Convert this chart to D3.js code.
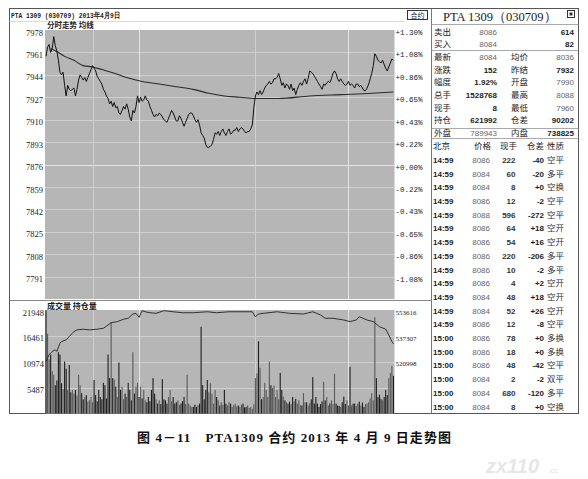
<!DOCTYPE html>
<html><head><meta charset="utf-8">
<script src="https://cdn.jsdelivr.net/npm/d3@7"></script>
<style>body{margin:0;background:#fff}svg{display:block}</style>
</head><body>
<svg id="c" width="588" height="479"></svg>
<script>
// ---------------- DATA ----------------
const headerTitle = "PTA 1309 (030709) 2013年4月9日";
const priceLabel = "分时走势  均线";
const volLabel = "成交量  持仓量";
const priceTicks = [7978,7961,7944,7927,7910,7893,7876,7859,7842,7825,7808,7791];
const pctTicks = ["+1.30%","+1.08%","+0.86%","+0.65%","+0.43%","+0.22%","+0.00%","-0.22%","-0.43%","-0.65%","-0.86%","-1.08%"];
const volTicks = [21948,16461,10974,5487];
const oiTicks = [553616,537307,520998];
const timeGridMinutes = [30,60,135,195];

// one price per trading minute (225 minutes)
const prices = [
7958,7965,7967,7961,7964,7973,7966,7962,7955,7946,
7944,7946,7936,7928,7936,7933,7932,7933,7934,7928,
7933,7940,7944,7942,7940,7942,7939,7942,7945,7948,
7951,7949,7947,7943,7941,7939,7937,7933,7931,7928,
7926,7922,7924,7920,7923,7919,7920,7915,7914,7917,
7920,7918,7922,7918,7912,7909,7917,7915,7920,7928,
7923,7927,7924,7925,7928,7925,7924,7920,7917,7914,
7912,7914,7913,7915,7914,7912,7910,7909,7908,7911,
7914,7917,7915,7912,7909,7909,7913,7911,7908,7905,
7908,7911,7914,7915,7915,7913,7910,7908,7910,7906,
7900,7898,7896,7891,7889,7889,7890,7891,7895,7900,
7899,7901,7898,7901,7903,7900,7898,7901,7903,7899,
7900,7902,7902,7904,7901,7903,7904,7903,7901,7900,
7901,7901,7903,7906,7919,7928,7931,7929,7932,7929,
7931,7934,7936,7937,7939,7937,7938,7941,7941,7942,
7945,7941,7936,7938,7934,7937,7936,7933,7937,7932,
7934,7929,7933,7936,7938,7936,7939,7941,7937,7941,
7947,7946,7945,7943,7941,7939,7937,7935,7933,7937,
7936,7938,7939,7938,7941,7945,7947,7945,7941,7939,
7941,7939,7937,7936,7937,7939,7936,7937,7936,7934,
7937,7937,7935,7936,7934,7932,7932,7934,7937,7941,
7945,7951,7960,7958,7955,7954,7953,7955,7952,7949,
7947,7950,7953,7956,7955];

const avgMinutes = [3,8,12,18,24,30,36,42,52,62,73,84,95,105,115,125,135,150,170,190,210,224];
const avgPrices  = [7964,7961,7958,7955,7951,7950,7948,7946,7942,7939,7937,7935,7933,7930,7928,7927,7926,7926,7928,7929,7930,7931];

const volumes = [
21900,16900,11500,12500,9000,8200,6000,7000,13000,12500,
6400,5200,11000,9500,5000,10300,4500,5000,4200,5000,
3800,8200,6000,4300,3000,3500,3900,2500,2800,3500,
2400,7100,3900,2600,5000,3500,3000,6500,6000,3200,
12500,7500,19400,7500,7200,5700,3500,10800,5000,5700,
3000,4200,3500,6500,5000,2800,13000,4200,5700,6500,
3500,5700,3200,5000,2800,2400,3500,2600,5000,7500,
4200,3000,2100,2800,2000,7300,3000,2800,2100,3500,
5000,2600,3500,2100,2400,2800,1800,2100,2600,3500,
2000,8200,2100,1700,1400,1400,1900,1400,1800,2100,
18400,6000,3000,5000,7100,4500,6400,4200,2100,5000,
3500,2800,1700,2400,1800,5000,2100,1700,2400,2100,
1400,1800,2100,1500,1700,1400,1900,2100,1300,1400,
1700,1200,1400,1000,2000,7500,8500,15300,9700,3000,
3500,6500,5000,3500,11000,6000,5400,5900,3500,5000,
3000,8600,5000,3600,2800,2400,2100,2500,2000,3500,
2600,3100,2100,2800,1800,1700,4300,2400,2400,1700,
2200,3000,7700,2100,3500,2100,1400,2000,2600,6700,
2800,3500,1700,2100,2800,2000,8400,2100,1700,1600,
1400,2400,3600,2000,2800,1700,9900,1700,2100,2100,
1600,2100,2500,1700,2300,1400,2000,2100,2400,3200,
4300,2800,20400,7500,3500,4000,3100,2800,3500,5000,
3900,7500,8600,10100,8000];

const oiMinutes = [0,2,4,6,7,9,10,13,15,18,20,24,28,33,37,40,42,46,50,53,56,58,60,62,64,67,71,76,82,88,95,104,110,118,127,133,135,137,140,149,157,166,172,177,180,185,192,196,200,202,207,211,215,219,221,223,224];
const oiValues = [521200,525400,527500,528500,527500,532700,533700,534800,536900,540000,541100,541500,541100,541500,542100,544200,545600,546300,547800,548400,551100,551500,549000,553200,552500,551900,551500,553200,552500,551900,551900,552500,551900,552500,552500,552500,549400,551100,551500,552500,551500,551100,552500,550500,548400,548400,547300,546300,547300,549400,547300,546300,543100,541500,537900,533700,532300];

const panelTitle = "PTA 1309（030709）";
const quoteLabelsA = ["卖出","买入","最新","涨跌","幅度","总手","现手","持仓","外盘"];
const quoteValuesA = ["8086","8084","8084","152","1.92%","1528768","8","621992","789943"];
const quoteLabelsB = ["","","均价","昨结","开盘","最高","最低","仓差","内盘"];
const quoteValuesB = ["614","82","8036","7932","7990","8088","7960","90202","738825"];

const tradeHeader = ["北京","价格","现手","仓差","性质"];
const tradeTimes  = ["14:59","14:59","14:59","14:59","14:59","14:59","14:59","14:59","14:59","14:59","14:59","14:59","14:59","15:00","15:00","15:00","15:00","15:00","15:00"];
const tradePrices = ["8086","8084","8084","8086","8088","8086","8086","8086","8086","8086","8084","8084","8086","8086","8086","8086","8084","8084","8084"];
const tradeQty    = ["222","60","8","12","596","64","54","220","10","4","48","52","12","78","18","48","2","680","8"];
const tradeOI     = ["-40","-20","+0","-2","-272","+18","+16","-206","-2","+2","+18","+26","-8","+0","+0","-42","-2","-120","+0"];
const tradeType   = ["空平","多平","空换","空平","空平","空开","空开","多平","多平","空开","空开","空开","空平","多换","多换","空平","双平","多平","空换"];

const caption = "图 4－11　PTA1309 合约 2013 年 4 月 9 日走势图";

// ---------------- DRAWING ----------------
const svg = d3.select("#c");
const ink = "#1c1c1c", mid = "#666", plotFill = "#b6b6b6", grid = "#d0d0d0", gridHi = "#e4e4e4";
const cjk = "'Noto Sans CJK SC','Liberation Sans',sans-serif";
const sans = "'Liberation Sans',Arial,sans-serif";
const serif = "'Liberation Serif','Times New Roman',serif";
const mono = "'Liberation Mono','DejaVu Sans Mono',monospace";

const PL = 45, PR = 394.5, PT = 30, PB = 299, VT = 310, VB = 413.5;
const x = d3.scaleLinear().domain([0, 225]).range([46, 395]);
const yP = d3.scaleLinear().domain([7774, 7978]).range([PB, PT]);
const yV = d3.scaleLinear().domain([0, 21948]).range([VB, VT]);
const yO = d3.scaleLinear().domain([488380, 553616]).range([VB, VT]);

// outer frames
svg.append("rect").attr("x",9.5).attr("y",8.5).attr("width",569).attr("height",405)
  .attr("fill","none").attr("stroke","#555");
svg.append("line").attr("x1",431.5).attr("x2",431.5).attr("y1",8.5).attr("y2",413.5).attr("stroke","#777");
svg.append("line").attr("x1",9.5).attr("x2",405).attr("y1",21.5).attr("y2",21.5).attr("stroke","#ddd");
svg.append("line").attr("x1",9.5).attr("x2",431.5).attr("y1",300.5).attr("y2",300.5).attr("stroke","#888");

// header text
svg.append("text").attr("x",11).attr("y",18).attr("font-family",mono).attr("font-size",8)
  .attr("font-weight","bold").attr("fill",ink).attr("textLength",109).attr("lengthAdjust","spacingAndGlyphs")
  .text(headerTitle);
// small button
svg.append("rect").attr("x",407.5).attr("y",10.5).attr("width",20).attr("height",9).attr("fill","#fff").attr("stroke","#333");
svg.append("text").attr("x",417.5).attr("y",18).attr("text-anchor","middle").attr("font-family",cjk)
  .attr("font-size",7).attr("fill",ink).text("合约");

// plot backgrounds
svg.append("rect").attr("x",PL).attr("y",PT).attr("width",PR-PL).attr("height",PB-PT).attr("fill",plotFill);
svg.append("rect").attr("x",PL).attr("y",VT).attr("width",PR-PL).attr("height",VB-VT).attr("fill",plotFill);

// grids - price panel
const gGrid = svg.append("g");
gGrid.selectAll(".hp").data(priceTicks.slice(1)).join("line")
  .attr("x1",PL).attr("x2",PR).attr("y1",d=>Math.round(yP(d))+0.5).attr("y2",d=>Math.round(yP(d))+0.5)
  .attr("stroke",(d,i)=> d===7876 ? gridHi : grid).attr("stroke-width",1);
gGrid.selectAll(".vp").data(timeGridMinutes).join("line")
  .attr("x1",d=>Math.round(x(d))+0.5).attr("x2",d=>Math.round(x(d))+0.5).attr("y1",PT).attr("y2",PB)
  .attr("stroke",(d,i)=> i%2 ? gridHi : grid);
// grids - volume panel
gGrid.selectAll(".hv").data(volTicks.slice(1)).join("line")
  .attr("x1",PL).attr("x2",PR).attr("y1",d=>Math.round(yV(d))+0.5).attr("y2",d=>Math.round(yV(d))+0.5)
  .attr("stroke",grid);
gGrid.selectAll(".vv").data(timeGridMinutes).join("line")
  .attr("x1",d=>Math.round(x(d))+0.5).attr("x2",d=>Math.round(x(d))+0.5).attr("y1",VT).attr("y2",VB)
  .attr("stroke",(d,i)=> i%2 ? gridHi : grid);

// panel labels
svg.append("text").attr("x",47).attr("y",28).attr("font-family",cjk).attr("font-size",7.5)
  .attr("font-weight","bold").attr("fill",ink).text(priceLabel);
svg.append("text").attr("x",47).attr("y",308.5).attr("font-family",cjk).attr("font-size",8)
  .attr("font-weight","bold").attr("fill",ink).text(volLabel);

// axes (price left, percent right)
function styleAxis(g){ g.select(".domain").remove(); g.selectAll(".tick line").remove(); }
const axL = svg.append("g").attr("transform","translate(43,0)")
  .call(d3.axisLeft(yP).tickValues(priceTicks).tickSize(0).tickPadding(0).tickFormat(d3.format("d")));
styleAxis(axL);
axL.selectAll("text").attr("dy","0.6em").attr("font-family",serif).attr("font-size",8.5).attr("fill",ink);

const axR = svg.append("g").attr("transform","translate(395.5,0)")
  .call(d3.axisRight(yP).tickValues(priceTicks).tickSize(0).tickPadding(0)
    .tickFormat((d,i)=>pctTicks[i]));
styleAxis(axR);
axR.selectAll("text").attr("dy","0.6em").attr("font-family",mono).attr("font-size",7.5).attr("fill",ink);

const axVL = svg.append("g").attr("transform","translate(44,0)")
  .call(d3.axisLeft(yV).tickValues(volTicks).tickSize(0).tickPadding(0).tickFormat(d3.format("d")));
styleAxis(axVL);
axVL.selectAll("text").attr("dy","0.6em").attr("font-family",serif).attr("font-size",8.5).attr("fill",ink);

const axVR = svg.append("g").attr("transform","translate(395.5,0)")
  .call(d3.axisRight(yO).tickValues(oiTicks).tickSize(0).tickPadding(0).tickFormat(d3.format("d")));
styleAxis(axVR);
axVR.selectAll("text").attr("dy","0.6em").attr("font-family",serif).attr("font-size",7).attr("fill",ink);

// volume bars
svg.append("g").selectAll("rect").data(volumes).join("rect")
  .attr("x",(d,i)=>x(i)-0.55).attr("width",1.1)
  .attr("y",d=>yV(d)).attr("height",d=>VB-yV(d))
  .attr("fill",(d,i)=> (i>0 && prices[i]>=prices[i-1]) ? "#5a5a5a" : "#1e1e1e");

// open interest line
svg.append("path").datum(oiMinutes.map((m,i)=>[m,oiValues[i]]))
  .attr("fill","none").attr("stroke","#222").attr("stroke-width",0.9)
  .attr("d", d3.line().x(d=>x(d[0])).y(d=>yO(d[1])));

// average line
svg.append("path").datum(avgMinutes.map((m,i)=>[m,avgPrices[i]]))
  .attr("fill","none").attr("stroke","#2a2a2a").attr("stroke-width",1.1)
  .attr("d", d3.line().curve(d3.curveMonotoneX).x(d=>x(d[0])).y(d=>yP(d[1])));

// price line
svg.append("path").datum(prices)
  .attr("fill","none").attr("stroke","#111").attr("stroke-width",1).attr("stroke-linejoin","round")
  .attr("d", d3.line().x((d,i)=>x(i)).y(d=>yP(d)));

// ---------------- right panel ----------------
svg.append("text").attr("x",443).attr("y",20.5).attr("font-family",serif).attr("font-size",12.5)
  .attr("fill",ink).text(panelTitle);
svg.append("rect").attr("x",567.5).attr("y",10.5).attr("width",7).attr("height",7).attr("fill","none").attr("stroke","#333");
svg.append("rect").attr("x",569.5).attr("y",12.5).attr("width",3).attr("height",3).attr("fill","#333");
const sepYs = [24.5, 50.5, 128.5, 138.5];
svg.selectAll(".sep").data(sepYs).join("line").attr("x1",431.5).attr("x2",578.5)
  .attr("y1",d=>d).attr("y2",d=>d).attr("stroke","#aaa");

const qRowY = d3.scaleLinear().domain([0,8]).range([34.5,136]);
const grayA = new Set([0,1,2,8]);
const grayB = new Set([2,4,5,6]);
const gq = svg.append("g");
quoteLabelsA.forEach((t,i)=>{
  const yy = qRowY(i);
  gq.append("text").attr("x",434).attr("y",yy).attr("font-family",cjk).attr("font-size",8.5).attr("fill",ink).text(t);
  gq.append("text").attr("x",497).attr("y",yy).attr("text-anchor","end").attr("font-family",sans).attr("font-size",8)
    .attr("font-weight",grayA.has(i)?"normal":"bold").attr("fill",grayA.has(i)?mid:ink).text(quoteValuesA[i]);
  if (quoteLabelsB[i]) gq.append("text").attr("x",511).attr("y",yy).attr("font-family",cjk).attr("font-size",8.5).attr("fill",ink).text(quoteLabelsB[i]);
  gq.append("text").attr("x",574).attr("y",yy).attr("text-anchor","end").attr("font-family",sans).attr("font-size",8)
    .attr("font-weight",grayB.has(i)?"normal":"bold").attr("fill",grayB.has(i)?mid:ink).text(quoteValuesB[i]);
});

const hdrX = [433,474,500,527,547];
tradeHeader.forEach((t,i)=>{
  svg.append("text").attr("x",hdrX[i]).attr("y",149).attr("font-family",cjk).attr("font-size",8.5).attr("fill",ink).text(t);
});
const tRowY = d3.scaleLinear().domain([0,18]).range([163,409.5]);
const gt = svg.append("g");
tradeTimes.forEach((t,i)=>{
  const yy = tRowY(i);
  gt.append("text").attr("x",433).attr("y",yy).attr("font-family",sans).attr("font-size",8).attr("font-weight","bold").attr("fill",ink).text(t);
  gt.append("text").attr("x",490).attr("y",yy).attr("text-anchor","end").attr("font-family",sans).attr("font-size",8).attr("fill",mid).text(tradePrices[i]);
  gt.append("text").attr("x",515.5).attr("y",yy).attr("text-anchor","end").attr("font-family",sans).attr("font-size",8).attr("font-weight","bold").attr("fill","#333").text(tradeQty[i]);
  gt.append("text").attr("x",544).attr("y",yy).attr("text-anchor","end").attr("font-family",sans).attr("font-size",8).attr("font-weight","bold").attr("fill",ink).text(tradeOI[i]);
  gt.append("text").attr("x",547).attr("y",yy).attr("font-family",cjk).attr("font-size",8.5).attr("fill","#333").text(tradeType[i]);
});

// caption
svg.append("text").attr("x",137).attr("y",442).attr("font-family","'Liberation Serif','Noto Sans CJK SC',serif")
  .attr("font-size",13).attr("font-weight","bold").attr("fill","#111")
  .attr("textLength",314).attr("lengthAdjust","spacing").text(caption);

// watermark
svg.append("text").attr("x",486).attr("y",473).attr("font-family",sans).attr("font-size",20)
  .attr("font-weight","bold").attr("font-style","italic").attr("fill","#e6e6e6").text("zx110");
svg.append("text").attr("x",548).attr("y",473).attr("font-family",sans).attr("font-size",8)
  .attr("fill","#e0e0e0").text(".cc");
</script>
</body></html>
